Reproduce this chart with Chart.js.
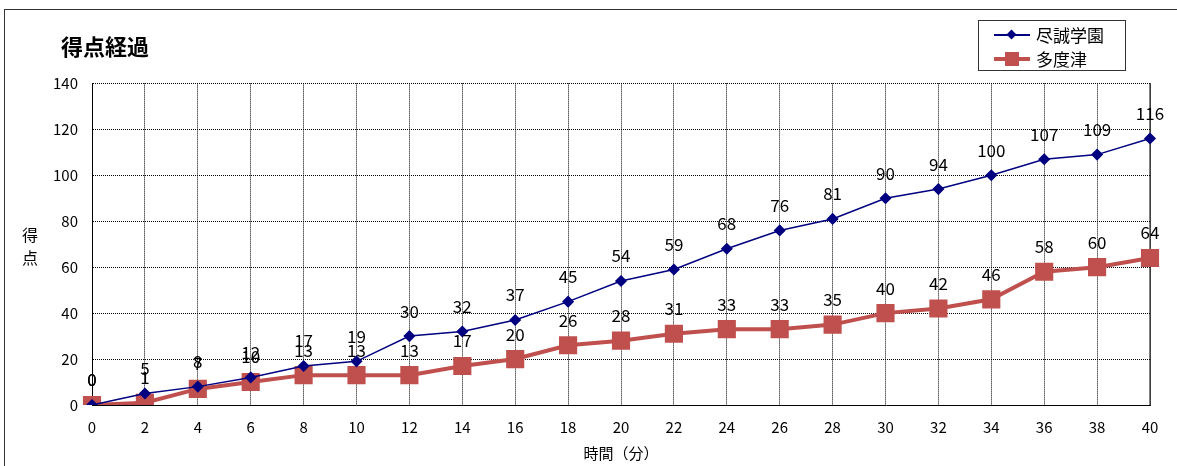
<!DOCTYPE html>
<html>
<head>
<meta charset="utf-8">
<script src="https://cdn.jsdelivr.net/npm/chart.js@4"></script>
<style>
  body { margin: 0; background: #fff; overflow: hidden; }
  #wrap { position: relative; width: 1177px; height: 466px; }
  #frame { position: absolute; left: 4px; top: 9px; width: 1200px; height: 500px; border: 1px solid #333; pointer-events: none; }
  #ytitle { position: absolute; left: 22px; top: 223px; font: 16px "Noto Sans CJK JP"; line-height: 23px; color: #000; }
  #legend { position: absolute; left: 978px; top: 20px; width: 146px; height: 49px; border: 1px solid #333; background: #fff; font: 17px "Noto Sans CJK JP"; }
  .item { position: absolute; left: 0; height: 20px; }
  .item .ln { position: absolute; left: 15px; width: 36px; }
  .item .mk { position: absolute; }
  .item .tx { position: absolute; left: 57px; top: -3px; white-space: nowrap; }
</style>
</head>
<body>
<div id="wrap">
  <canvas id="score-line-chart" width="1177" height="466"></canvas>
  <div id="frame"></div>
  <div id="ytitle">得<br>点</div>
  <div id="legend"></div>
</div>
<script>
const minutes = ['0','2','4','6','8','10','12','14','16','18','20','22','24','26','28','30','32','34','36','38','40'];
const jinsei = [0,5,8,12,17,19,30,32,37,45,54,59,68,76,81,90,94,100,107,109,116];
const tadotsu = [0,1,7,10,13,13,13,17,20,26,28,31,33,33,35,40,42,46,58,60,64];
const teamNames = ['尽誠学園', '多度津'];
const fontFamily = '"Noto Sans CJK JP", "Noto Sans", sans-serif';

// numbers above each point
const valueLabels = {
    id: 'valueLabels',
    afterDatasetsDraw(chart) {
        const ctx = chart.ctx;
        ctx.save();
        ctx.font = '17px ' + fontFamily;
        ctx.fillStyle = '#000';
        ctx.textAlign = 'center';
        ctx.textBaseline = 'middle';
        chart.data.datasets.forEach((ds, i) => {
            chart.getDatasetMeta(i).data.forEach((pt, j) => {
                ctx.fillText(ds.data[j], pt.x, pt.y - 25);
            });
        });
        ctx.restore();
    }
};

// solid right edge of the plot area, title shifted in a bit
const plotFrame = {
    id: 'plotFrame',
    afterLayout(chart) {
        if (chart.titleBlock) chart.titleBlock.left = 61;
    },
    beforeDatasetsDraw(chart) {
        const a = chart.chartArea, ctx = chart.ctx;
        ctx.save();
        ctx.strokeStyle = '#000';
        ctx.lineWidth = 1;
        ctx.beginPath();
        ctx.moveTo(a.right, a.top);
        ctx.lineTo(a.right, a.bottom);
        ctx.stroke();
        ctx.restore();
    }
};

const ctx = document.getElementById('score-line-chart').getContext('2d');
const myChart = new Chart(ctx, {
    type: 'line',
    data: {
        labels: minutes,
        datasets: [{
            label: teamNames[0],
            data: jinsei,
            borderColor: '#000080',
            backgroundColor: '#000080',
            borderWidth: 1.5,
            pointStyle: 'rectRot',
            pointRadius: 5,
            tension: 0
        }, {
            label: teamNames[1],
            data: tadotsu,
            borderColor: '#C0504D',
            backgroundColor: '#C0504D',
            borderWidth: 4,
            pointStyle: 'rect',
            pointRadius: 10,
            tension: 0
        }]
    },
    options: {
        responsive: false,
        animation: false,
        layout: { padding: { left: 30, right: 27, top: 23, bottom: 0 } },
        plugins: {
            legend: { display: false },
            tooltip: { enabled: false },
            title: {
                display: true,
                text: '得点経過',
                align: 'start',
                color: '#000',
                font: { family: fontFamily, size: 22, weight: 'bold' },
                padding: { top: 10, bottom: 24 }
            }
        },
        scales: {
            x: {
                offset: false,
                afterFit: s => { s.height = 61; },
                grid: { color: '#000', tickLength: 0, drawTicks: false },
                border: { color: '#000', width: 1, dash: [1, 1] },
                ticks: { color: '#000', padding: 13, maxRotation: 0, autoSkip: false, font: { family: fontFamily, size: 15 } },
                title: { display: true, text: '時間（分）', color: '#000', font: { family: fontFamily, size: 15 }, padding: { top: 0, bottom: 4 } }
            },
            y: {
                min: 0,
                max: 140,
                afterFit: s => { s.width = 62; },
                grid: { color: '#000', tickLength: 0, drawTicks: false },
                border: { color: '#000', width: 1, dash: [1, 1] },
                ticks: { stepSize: 20, color: '#000', padding: 14, font: { family: fontFamily, size: 15 } }
            }
        }
    },
    plugins: [valueLabels, plotFrame]
});

// legend box
const legendEl = document.getElementById('legend');
myChart.data.datasets.forEach((ds, i) => {
    const item = document.createElement('div');
    item.className = 'item';
    item.style.top = (4 + i * 24) + 'px';
    const lw = ds.borderWidth;
    const mk = ds.pointStyle === 'rect'
        ? '<div class="mk" style="left:26px;top:3px;width:14px;height:14px;background:' + ds.borderColor + '"></div>'
        : '<div class="mk" style="left:29px;top:6px;width:7px;height:7px;background:' + ds.borderColor + ';transform:rotate(45deg)"></div>';
    item.innerHTML = '<div class="ln" style="top:' + (10 - lw / 2) + 'px;height:' + lw + 'px;background:' + ds.borderColor + '"></div>' + mk +
        '<div class="tx">' + ds.label + '</div>';
    legendEl.appendChild(item);
});
</script>
</body>
</html>
